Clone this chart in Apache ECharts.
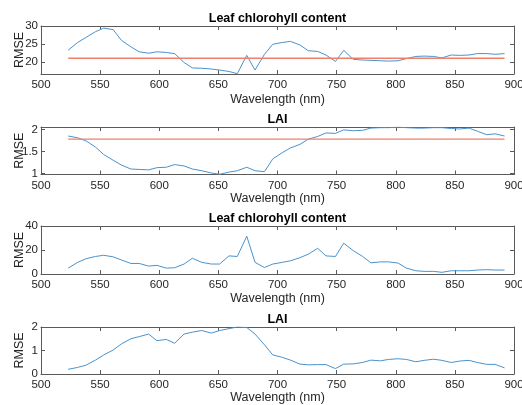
<!DOCTYPE html>
<html>
<head>
<meta charset="utf-8">
<script src="https://cdn.jsdelivr.net/npm/echarts@6/dist/echarts.min.js"></script>
<style>html,body{margin:0;padding:0;background:#fff}#c{width:522px;height:405px}</style>
</head>
<body>
<div id="c"></div>
<script>
const wavelength = [523,531,538,546,553,561,568,576,583,591,598,606,613,621,628,636,644,651,659,666,674,681,689,696,704,711,719,726,734,741,749,756,764,772,779,787,794,802,809,817,824,832,839,847,854,862,869,877,884,892];

const chlRmseA = [23.25,25.4,26.8,28.4,29.4,29.0,26.0,24.2,22.8,22.4,22.8,22.6,22.3,19.8,18.3,18.2,18.0,17.7,17.3,16.7,21.8,17.7,22.1,24.9,25.4,25.7,24.7,23.1,22.9,21.9,20.1,23.2,20.7,20.5,20.4,20.3,20.2,20.3,20.9,21.5,21.6,21.5,21.1,21.9,21.8,21.9,22.3,22.3,22.1,22.3];
const chlRefA = 21.0;

const laiRmseA = [1.85,1.81,1.74,1.60,1.43,1.30,1.19,1.10,1.09,1.08,1.13,1.14,1.20,1.17,1.10,1.06,1.01,0.98,1.03,1.06,1.14,1.06,1.04,1.33,1.47,1.58,1.66,1.78,1.84,1.92,1.91,1.99,1.97,1.98,2.03,2.04,2.04,2.05,2.04,2.03,2.03,2.04,2.04,2.02,2.01,2.03,1.96,1.88,1.90,1.85];
const laiRefA = 1.78;

const chlRmseB = [4.9,9.7,12.7,14.6,15.6,14.3,11.7,8.8,8.8,6.6,7.2,4.9,5.2,8.3,13.1,9.7,8.3,8.3,15.1,14.6,31.5,9.7,5.4,8.3,9.7,11.0,13.6,16.5,21.4,15.1,14.6,25.7,19.5,14.6,9.3,10.1,10.1,9.1,4.9,2.7,2.2,2.2,1.4,2.7,2.7,2.7,3.3,3.6,3.3,3.3];

const laiRmseB = [0.20,0.28,0.375,0.59,0.81,1.02,1.28,1.50,1.59,1.70,1.42,1.47,1.31,1.70,1.78,1.85,1.74,1.85,1.93,2.0,1.98,1.70,1.24,0.81,0.71,0.59,0.42,0.39,0.40,0.40,0.23,0.42,0.43,0.49,0.59,0.56,0.62,0.65,0.62,0.52,0.58,0.63,0.58,0.49,0.55,0.58,0.49,0.41,0.41,0.26];

const titles = ["Leaf chlorohyll content","LAI","Leaf chlorohyll content","LAI"];
const xTitle = "Wavelength (nm)";
const yTitle = "RMSE";
const yTicks = [[20,25,30],[1,1.5,2],[0,20,40],[0,1,2]];
const yRanges = [[16.6,30],[0.975,2.055],[0,40],[0,2]];
const xTicks = [500,550,600,650,700,750,800,850,900];

const FONT = '"Liberation Sans", Arial, Helvetica, sans-serif';
const AX = '#5a5a5a';
const TXT = '#262626';
const BLUE = '#4a92cc';
const RED = '#f0806a';

const panels = [
  {top:26, height:48, values: chlRmseA, ref: chlRefA, xGap:19},
  {top:127, height:47.5, values: laiRmseA, ref: laiRefA, xGap:18},
  {top:226, height:48, values: chlRmseB, ref: null, xGap:18},
  {top:327, height:47, values: laiRmseB, ref: null, xGap:17}
];

const grid = [], xAxis = [], yAxis = [], series = [];
panels.forEach((p, i) => {
  grid.push({left:41, width:473, top:p.top, height:p.height, containLabel:false, outerBoundsMode:'none'});
  const xBase = {
    type:'value', gridIndex:i, min:500, max:900, interval:50,
    axisLine:{show:true, onZero:false, lineStyle:{color:AX, width:1}},
    axisTick:{show:true, inside:true, length:4, lineStyle:{color:AX}},
    splitLine:{show:false}
  };
  xAxis.push(Object.assign({}, xBase, {
    position:'bottom',
    axisLabel:{show:true, margin:5, color:TXT, fontSize:11.5, fontFamily:FONT, customValues: xTicks},
    name: xTitle, nameLocation:'middle', nameGap:p.xGap, nameMoveOverlap:false,
    nameTextStyle:{color:TXT, fontSize:12.5, fontFamily:FONT}
  }));
  xAxis.push(Object.assign({}, xBase, {position:'top', axisLabel:{show:false}}));
  const yBase = {
    type:'value', gridIndex:i, min:yRanges[i][0], max:yRanges[i][1],
    axisLine:{show:true, onZero:false, lineStyle:{color:AX, width:1}},
    axisTick:{show:true, inside:true, length:4, lineStyle:{color:AX}, customValues: yTicks[i]},
    splitLine:{show:false}
  };
  yAxis.push(Object.assign({}, yBase, {
    position:'left',
    axisLabel:{show:true, margin:3, color:TXT, fontSize:11.5, fontFamily:FONT, customValues: yTicks[i]},
    name: yTitle, nameLocation:'middle', nameGap:15, nameMoveOverlap:false,
    nameTextStyle:{color:TXT, fontSize:12.5, fontFamily:FONT}
  }));
  yAxis.push(Object.assign({}, yBase, {position:'right', axisLabel:{show:false}}));

  series.push({
    type:'line', xAxisIndex:2*i, yAxisIndex:2*i,
    data: wavelength.map((w, k) => [w, p.values[k]]),
    showSymbol:false, symbol:'none', lineStyle:{color:BLUE, width:1}, itemStyle:{color:BLUE},
    silent:true, z:2
  });
  if (p.ref !== null) {
    series.push({
      type:'line', xAxisIndex:2*i, yAxisIndex:2*i,
      data: [[wavelength[0], p.ref],[wavelength[wavelength.length-1], p.ref]],
      showSymbol:false, symbol:'none', lineStyle:{color:RED, width:1.3}, itemStyle:{color:RED},
      silent:true, z:3
    });
  }
});

const chart = echarts.init(document.getElementById('c'), null, {renderer:'canvas'});
chart.setOption({
  animation:false,
  backgroundColor:'#fff',
  grid, xAxis, yAxis, series,
  graphic: panels.map((p, i) => ({
    type:'text', x:277.5, y:p.top - 7.5,
    style:{text:titles[i], fill:'#000', font:'bold 12.5px ' + FONT, align:'center', verticalAlign:'middle'}
  }))
});
</script>
</body>
</html>
